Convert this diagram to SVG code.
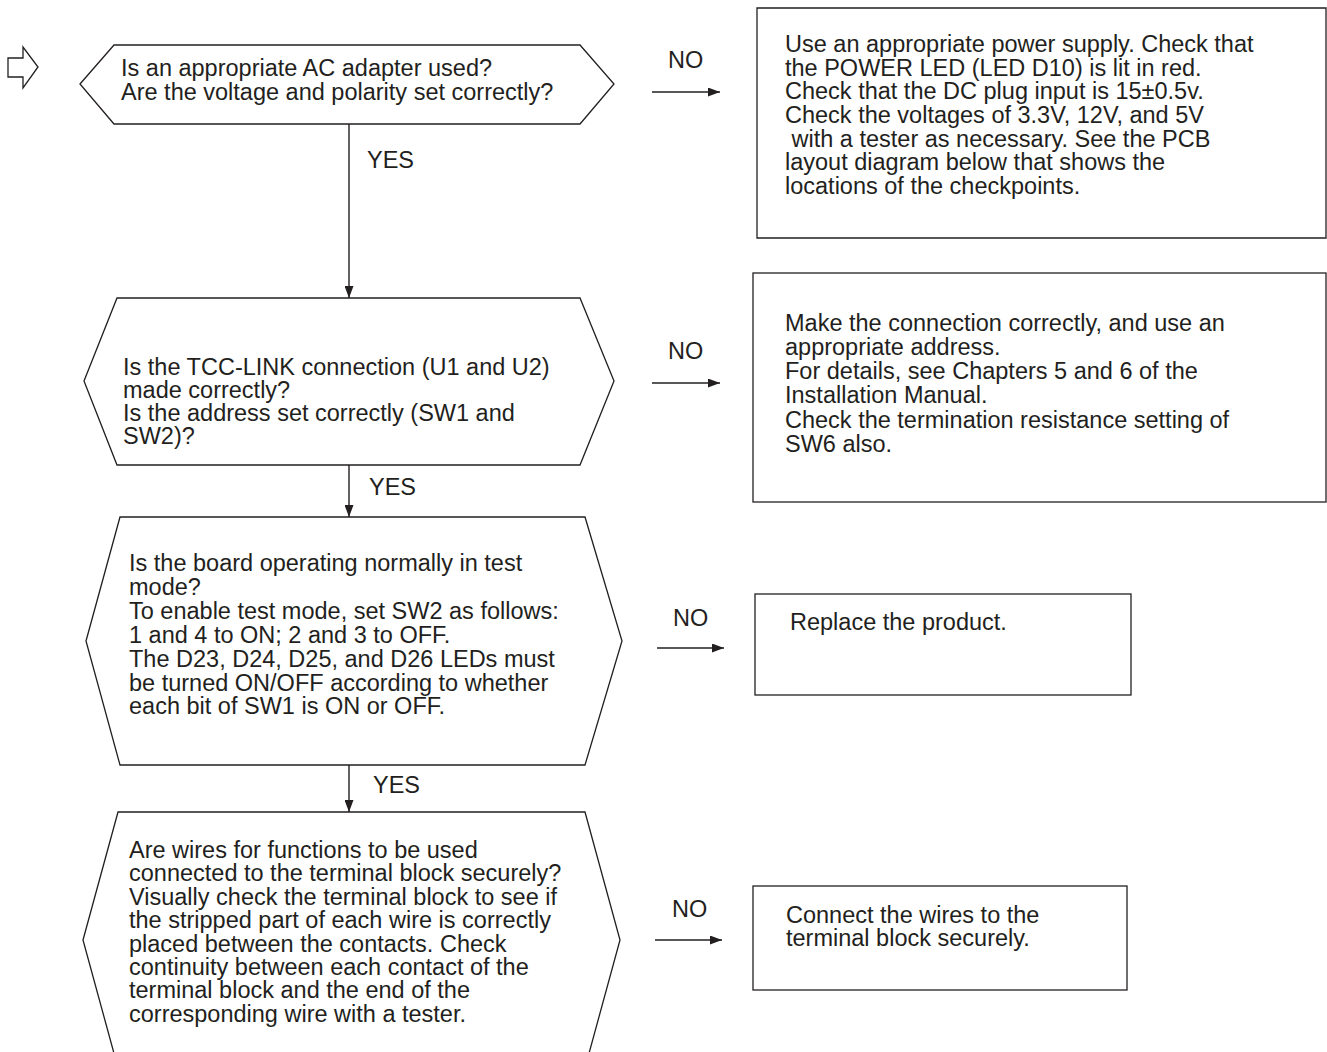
<svg xmlns="http://www.w3.org/2000/svg" width="1327" height="1052" viewBox="0 0 1327 1052">
<defs>
<marker id="ah" viewBox="0 0 12 9" refX="12" refY="4.5" markerWidth="12" markerHeight="9" markerUnits="userSpaceOnUse" orient="auto"><path d="M0,0 L12,4.5 L0,9 Z" fill="#231f20"/></marker>
<style>
.s{fill:#fff;stroke:#231f20;stroke-width:1.3}
.t{font-family:"Liberation Sans",Arial,sans-serif;font-size:23.5px;fill:#231f20}
.c{fill:none;stroke:#231f20;stroke-width:1.4}
</style>
</defs>
<rect width="1327" height="1052" fill="#fff"/>
<g id="start"><polygon class="s" points="8,58 23,58 23,47 38,67 23,88 23,77 8,77"/></g>
<g id="q1"><polygon class="s" points="80,84 114,45 580,45 614,84 580,124 114,124"/>
<text class="t" x="121" y="76">Is an appropriate AC adapter used?</text>
<text class="t" x="121" y="100">Are the voltage and polarity set correctly?</text></g>
<g id="a1"><path class="s" d="M757,238 V8 H1326 V238 Z"/>
<text class="t"><tspan x="785" y="52">Use an appropriate power supply. Check that</tspan><tspan x="785" y="76">the POWER LED (LED D10) is lit in red.</tspan><tspan x="785" y="99">Check that the DC plug input is 15±0.5v.</tspan><tspan x="785" y="123">Check the voltages of 3.3V, 12V, and 5V</tspan><tspan x="785" y="147"> with a tester as necessary. See the PCB</tspan><tspan x="785" y="170">layout diagram below that shows the</tspan><tspan x="785" y="194">locations of the checkpoints.</tspan></text></g>
<g id="q2"><polygon class="s" points="84,381 117,298 580,298 614,381 580,465 117,465"/>
<text class="t"><tspan x="123" y="375">Is the TCC-LINK connection (U1 and U2)</tspan><tspan x="123" y="398">made correctly?</tspan><tspan x="123" y="421">Is the address set correctly (SW1 and</tspan><tspan x="123" y="444">SW2)?</tspan></text></g>
<g id="a2"><rect class="s" x="753" y="273" width="573" height="229"/>
<text class="t"><tspan x="785" y="331">Make the connection correctly, and use an</tspan><tspan x="785" y="355">appropriate address.</tspan><tspan x="785" y="379">For details, see Chapters 5 and 6 of the</tspan><tspan x="785" y="403">Installation Manual.</tspan><tspan x="785" y="428">Check the termination resistance setting of</tspan><tspan x="785" y="452">SW6 also.</tspan></text></g>
<g id="q3"><polygon class="s" points="86,641 120,517 585,517 622,641 585,765 120,765"/>
<text class="t"><tspan x="129" y="571">Is the board operating normally in test</tspan><tspan x="129" y="595">mode?</tspan><tspan x="129" y="619">To enable test mode, set SW2 as follows:</tspan><tspan x="129" y="643">1 and 4 to ON; 2 and 3 to OFF.</tspan><tspan x="129" y="667">The D23, D24, D25, and D26 LEDs must</tspan><tspan x="129" y="691">be turned ON/OFF according to whether</tspan><tspan x="129" y="714">each bit of SW1 is ON or OFF.</tspan></text></g>
<g id="a3"><rect class="s" x="755" y="594" width="376" height="101"/>
<text class="t" x="790" y="630">Replace the product.</text></g>
<g id="q4"><polygon class="s" points="83,940 118,812 585,812 620,940 585,1068 118,1068"/>
<text class="t"><tspan x="129" y="858">Are wires for functions to be used</tspan><tspan x="129" y="881">connected to the terminal block securely?</tspan><tspan x="129" y="905">Visually check the terminal block to see if</tspan><tspan x="129" y="928">the stripped part of each wire is correctly</tspan><tspan x="129" y="952">placed between the contacts. Check</tspan><tspan x="129" y="975">continuity between each contact of the</tspan><tspan x="129" y="998">terminal block and the end of the</tspan><tspan x="129" y="1022">corresponding wire with a tester.</tspan></text></g>
<g id="a4"><rect class="s" x="753" y="886" width="374" height="104"/>
<text class="t"><tspan x="786" y="923">Connect the wires to the</tspan><tspan x="786" y="946">terminal block securely.</tspan></text></g>
<g id="connectors">
<path class="c" d="M349,124 V298" marker-end="url(#ah)"/>
<path class="c" d="M349,465 V517" marker-end="url(#ah)"/>
<path class="c" d="M349,765 V812" marker-end="url(#ah)"/>
<path class="c" d="M652,92 H720" marker-end="url(#ah)"/>
<path class="c" d="M652,383 H720" marker-end="url(#ah)"/>
<path class="c" d="M657,648 H724" marker-end="url(#ah)"/>
<path class="c" d="M655,940 H722" marker-end="url(#ah)"/>
<text class="t" x="668" y="68">NO</text>
<text class="t" x="668" y="359">NO</text>
<text class="t" x="673" y="626">NO</text>
<text class="t" x="672" y="917">NO</text>
<text class="t" x="367" y="168">YES</text>
<text class="t" x="369" y="495">YES</text>
<text class="t" x="373" y="793">YES</text>
</g>
</svg>
